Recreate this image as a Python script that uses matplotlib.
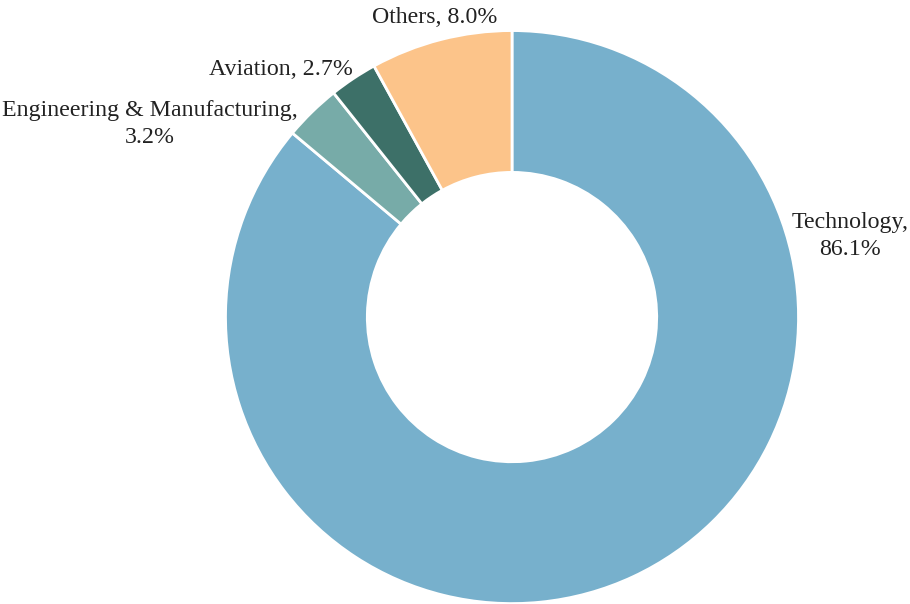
import matplotlib.pyplot as plt

sectors = ['Technology', 'Engineering & Manufacturing', 'Aviation', 'Others']
shares = [86.1, 3.2, 2.7, 8.0]
colors = ['#77b0cc', '#77aba8', '#3d7068', '#fcc48a']
label_text = ['Technology,\n86.1%', 'Engineering & Manufacturing,\n3.2%',
              'Aviation, 2.7%', 'Others, 8.0%']
label_pos = [(1.18, 0.282), (-1.264, 0.673), (-0.806, 0.865), (-0.269, 1.047)]

plt.rcParams['font.family'] = ['Liberation Serif', 'DejaVu Serif']

fig = plt.figure(figsize=(9.1, 6.04), dpi=100)
ax = fig.add_axes([0.2478, 0.0007, 0.6297, 0.9487])

ax.pie(shares, colors=colors, startangle=90, counterclock=False,
       radius=1, wedgeprops=dict(width=0.495, edgecolor='white', linewidth=2))

for txt, (x, y) in zip(label_text, label_pos):
    ax.text(x, y, txt, ha='center', va='center', fontsize=17.2,
            color='#222222', linespacing=1.35, clip_on=False)

ax.set_xlim(-1, 1)
ax.set_ylim(-1, 1)
ax.set_aspect('equal')
ax.axis('off')

fig.savefig('out.png', dpi=100)
